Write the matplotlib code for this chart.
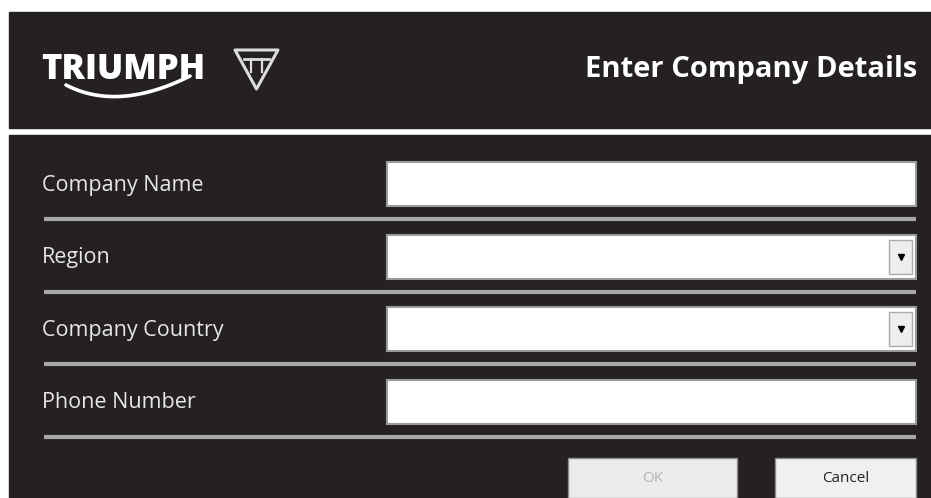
import numpy as np
import matplotlib.pyplot as plt
from matplotlib.patches import Rectangle, Polygon

# dialog content
title = 'Enter Company Details'
brand = 'TRIUMPH'
field_labels = ['Company Name', 'Region', 'Company Country', 'Phone Number']
field_is_dropdown = [False, True, True, False]
button_labels = ['OK', 'Cancel']
button_enabled = [False, True]

W, H = 931, 498
bg = '#252122'

fig = plt.figure(figsize=(W / 100, H / 100), dpi=100)
ax = fig.add_axes([0, 0, 1, 1])
ax.set_xlim(0, W)
ax.set_ylim(H, 0)
ax.axis('off')
fig.patch.set_facecolor('white')

# header and body panels
ax.add_patch(Rectangle((9, 12), W - 9, 116, color=bg))
ax.add_patch(Rectangle((9, 135), W - 9, H - 135, color=bg))

# logo
ax.text(41, 70, brand, color='white', fontsize=25, fontweight='heavy',
        family='Open Sans', va='center', ha='left')
s = np.linspace(0, 1, 60)
p0, p1, p2 = np.array([66, 85]), np.array([118, 112]), np.array([190, 76])
curve = np.outer((1 - s) ** 2, p0) + np.outer(2 * (1 - s) * s, p1) + np.outer(s ** 2, p2)
ax.plot(curve[:, 0], curve[:, 1], color='white', lw=2.6, solid_capstyle='round')
tri = Polygon([[235, 50], [278, 50], [256.5, 89]], closed=True, fill=False,
              ec='#dddddd', lw=2.2, joinstyle='round')
ax.add_patch(tri)
ax.plot([244, 269], [59, 59], color='#dddddd', lw=2)
ax.plot([251, 251], [59, 72], color='#dddddd', lw=1.6)
ax.plot([262, 262], [59, 72], color='#dddddd', lw=1.6)

# title
ax.text(917, 69, title, color='white', fontsize=21, fontweight='bold',
        family='Open Sans', va='center', ha='right')

# form rows
row_top = 162
row_step = 72.5
for i, (lab, dd) in enumerate(zip(field_labels, field_is_dropdown)):
    y0 = row_top + i * row_step
    ax.text(42, y0 + 23, lab, color='#e6e6e6', fontsize=15.5,
            family='Open Sans', va='center', ha='left')
    ax.add_patch(Rectangle((387, y0), 529, 44, fc='white', ec='#9a9a9a', lw=1.5))
    if dd:
        ax.add_patch(Rectangle((889, y0 + 5), 23, 34, fc='#eeeeee', ec='#aaaaaa', lw=1))
        ax.plot(900.5, y0 + 22, marker='v', color='black', ms=5)
    ax.plot([44, 916], [y0 + 57, y0 + 57], color='#a7a7a7', lw=3, solid_capstyle='butt')

# buttons
btn_x = [568, 775]
btn_w = [169, 141]
for bx, bw, lab, en in zip(btn_x, btn_w, button_labels, button_enabled):
    ax.add_patch(Rectangle((bx, 458), bw, 40, fc='#f0f0f0' if en else '#ececec',
                           ec='#8c8c8c', lw=1))
    ax.text(bx + bw / 2, 478, lab, color='#222222' if en else '#b5b5b5',
            fontsize=11, family='Open Sans', va='center', ha='center')

fig.savefig('out.png', dpi=100, facecolor='white')
